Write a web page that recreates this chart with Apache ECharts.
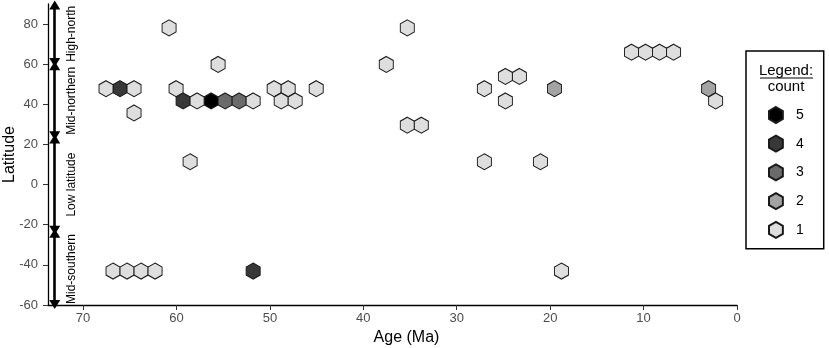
<!DOCTYPE html>
<html>
<head>
<meta charset="utf-8">
<script src="https://cdn.jsdelivr.net/npm/echarts@6/dist/echarts.min.js"></script>
<style>
  html, body { margin: 0; padding: 0; background: #fff; }
  #chart { width: 829px; height: 348px; }
</style>
</head>
<body>
<div id="chart"></div>
<script>
// hex bins: centre age (Ma), centre latitude, count
var ages   = [67.54, 66.04, 64.54, 60.04, 49.54, 48.04, 45.04, 27.04, 19.54, 3.04,
              59.29, 57.79, 56.29, 54.79, 53.29, 51.79, 48.79, 47.29, 24.79, 2.29,
              64.54, 35.29, 33.79, 24.79, 23.29, 55.54, 37.54,
              11.29, 9.79, 8.29, 6.79, 60.79, 35.29,
              58.54, 27.04, 21.04,
              66.79, 65.29, 63.79, 62.29, 51.79, 18.79];
var lats   = [47.8, 47.8, 47.8, 47.8, 47.8, 47.8, 47.8, 47.8, 47.8, 47.8,
              41.7, 41.7, 41.7, 41.7, 41.7, 41.7, 41.7, 41.7, 41.7, 41.7,
              35.7, 29.6, 29.6, 53.9, 53.9, 59.9, 59.9,
              66.0, 66.0, 66.0, 66.0, 78.1, 78.1,
              11.4, 11.4, 11.4,
              -43.1, -43.1, -43.1, -43.1, -43.1, -43.1];
var counts = [1, 4, 1, 1, 1, 1, 1, 1, 2, 2,
              4, 1, 5, 3, 3, 1, 1, 1, 1, 1,
              1, 1, 1, 1, 1, 1, 1,
              1, 1, 1, 1, 1, 1,
              1, 1, 1,
              1, 1, 1, 1, 4, 1];

var countLevels = [5, 4, 3, 2, 1];
var fills = {1: '#dedede', 2: '#a3a3a3', 3: '#6b6b6b', 4: '#383838', 5: '#000000'};

var xTicks = [0, 10, 20, 30, 40, 50, 60, 70];
var yTicks = [-60, -40, -20, 0, 20, 40, 60, 80];

// latitude bands shown as arrows beside the y axis
var bandNames = ['High-north', 'Mid-northern', 'Low latitude', 'Mid-southern'];
var bandTop    = [89.5, 59.2, 22.7, -24.3];
var bandBottom = [60.8, 24.3, -22.7, -59.8];
var bandAge = 73.03;

var FONT = 'Liberation Sans, Arial, Helvetica, sans-serif';
var HEX = 'path://M0,-1 L0.866,-0.5 L0.866,0.5 L0,1 L-0.866,0.5 L-0.866,-0.5 Z';

var series = [];
for (var c = 0; c < countLevels.length; c++) {
    var lv = countLevels[c];
    var pts = [];
    for (var i = 0; i < ages.length; i++) {
        if (counts[i] == lv) pts.push([ages[i], lats[i]]);
    }
    series.push({
        name: String(lv),
        type: 'scatter',
        symbol: HEX,
        symbolSize: [14, 16],
        itemStyle: {color: fills[lv], borderColor: '#1a1a1a', borderWidth: 1, opacity: 1},
        emphasis: {disabled: true},
        data: pts
    });
}

var bandLines = [];
for (var b = 0; b < bandNames.length; b++) {
    // drawn bottom -> top so the label reads upward
    bandLines.push([
        {name: bandNames[b], coord: [bandAge, bandBottom[b]]},
        {coord: [bandAge, bandTop[b]]}
    ]);
}
series.push({
    name: 'bands',
    type: 'scatter',
    data: [],
    silent: true,
    markLine: {
        silent: true,
        animation: false,
        symbol: ['triangle', 'triangle'],
        symbolSize: [11, 9],
        lineStyle: {color: '#000', width: 2.6, type: 'solid'},
        label: {
            show: true, position: 'insideMiddleBottom', formatter: '{b}', distance: 11,
            color: '#000', fontSize: 12, fontFamily: FONT
        },
        emphasis: {disabled: true},
        data: bandLines
    }
});

var chart = echarts.init(document.getElementById('chart'));
chart.setOption({
    animation: false,
    backgroundColor: '#fff',
    textStyle: {fontFamily: FONT},
    grid: {left: 48, right: 92, top: 4, bottom: 43, outerBoundsMode: 'none'},
    legend: {
        data: ['5', '4', '3', '2', '1'],
        orient: 'vertical',
        left: 746, top: 51,
        padding: [55, 20, 10, 22],
        borderColor: '#000', borderWidth: 1.5,
        itemWidth: 14, itemHeight: 16, itemGap: 10.7,
        selectedMode: false,
        textStyle: {color: '#000', fontSize: 14, fontFamily: FONT, padding: [0, 0, 0, 8]}
    },
    graphic: [
        {type: 'text', x: 786, y: 71, style: {text: 'Legend:', fill: '#000', font: '15px ' + FONT, align: 'center', verticalAlign: 'middle'}},
        {type: 'line', shape: {x1: 760, y1: 78, x2: 813, y2: 78}, style: {stroke: '#000', lineWidth: 1}},
        {type: 'text', x: 786, y: 87, style: {text: 'count', fill: '#000', font: '15px ' + FONT, align: 'center', verticalAlign: 'middle'}}
    ],
    xAxis: {
        type: 'value', inverse: true, min: 0, max: 73.75,
        name: 'Age (Ma)', nameLocation: 'middle', nameGap: 22,
        nameTextStyle: {color: '#000', fontSize: 16, padding: [0, 0, 0, 28]},
        axisLine: {onZero: false, lineStyle: {color: '#000', width: 1.3}},
        axisTick: {length: 5, lineStyle: {color: '#333'}, customValues: xTicks},
        axisLabel: {color: '#4d4d4d', fontSize: 13, margin: 7, customValues: xTicks},
        splitLine: {show: false}
    },
    yAxis: {
        type: 'value', min: -60, max: 90, position: 'left',
        name: 'Latitude', nameLocation: 'middle', nameGap: 30, nameMoveOverlap: false,
        nameTextStyle: {color: '#000', fontSize: 16},
        axisLine: {show: true, onZero: false, lineStyle: {color: '#000', width: 1.3}},
        axisTick: {show: true, length: 5, lineStyle: {color: '#333'}, customValues: yTicks},
        axisLabel: {color: '#4d4d4d', fontSize: 13, margin: 10, customValues: yTicks},
        splitLine: {show: false}
    },
    series: series
});
</script>
</body>
</html>
